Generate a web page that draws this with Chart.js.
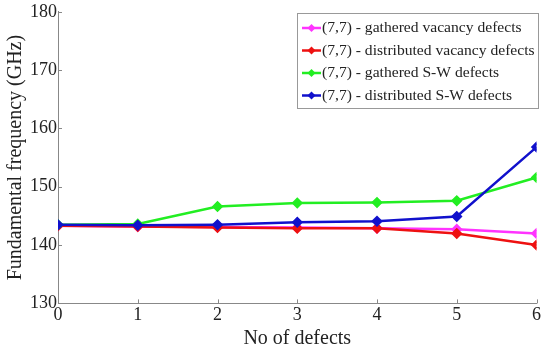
<!DOCTYPE html>
<html><head><meta charset="utf-8">
<script src="https://cdn.jsdelivr.net/npm/chart.js@4.4.1/dist/chart.umd.min.js"></script>
<style>html,body{margin:0;padding:0;background:#fff}#wrap{width:543px;height:353px}</style>
</head><body><div id="wrap"><canvas id="c" width="543" height="353"></canvas></div>
<script>
const defects = [0, 1, 2, 3, 4, 5, 6];
const gatheredVacancy = [143.3, 143.2, 143.1, 143.0, 142.9, 142.7, 142.0];
const distributedVacancy = [143.3, 143.2, 143.0, 142.9, 142.9, 142.0, 140.0];
const gatheredSW = [143.5, 143.6, 146.6, 147.2, 147.3, 147.6, 151.6];
const distributedSW = [143.5, 143.4, 143.5, 143.9, 144.1, 144.9, 156.8];
const seriesNames = ["(7,7) - gathered vacancy defects", "(7,7) - distributed vacancy defects", "(7,7) - gathered S-W defects", "(7,7) - distributed S-W defects"];
const seriesColors = ["#ff33ff", "#ee1111", "#22ee22", "#1111cc"];
const xTicks = [0, 1, 2, 3, 4, 5, 6];
const yTicks = [130, 140, 150, 160, 170, 180];

const seriesData = [gatheredVacancy, distributedVacancy, gatheredSW, distributedSW];
const datasets = seriesData.map((vals, i) => ({
  label: seriesNames[i],
  data: vals.map((v, j) => ({x: defects[j], y: v})),
  borderColor: seriesColors[i],
  backgroundColor: seriesColors[i],
  borderWidth: 2.5,
  pointStyle: 'rectRot',
  pointRadius: 4,
  pointHoverRadius: 4,
  tension: 0,
  order: 4 - i
}));

const serif = "'Liberation Serif', 'DejaVu Serif', serif";

const extras = {
  id: 'extras',
  afterDraw(chart) {
    const ctx = chart.ctx;
    const xs = chart.scales.x, ys = chart.scales.y;
    const area = chart.chartArea;
    ctx.save();
    ctx.strokeStyle = '#888';
    ctx.lineWidth = 1;
    ctx.beginPath();
    yTicks.forEach(t => { const p = Math.round(ys.getPixelForValue(t)) + 0.5; ctx.moveTo(area.left, p); ctx.lineTo(area.left + 4, p); });
    xTicks.forEach(t => { const p = Math.round(xs.getPixelForValue(t)) + 0.5; ctx.moveTo(p, area.bottom); ctx.lineTo(p, area.bottom - 4); });
    ctx.stroke();
    // legend
    const lx = 297, ly = 13, lw = 241, lh = 95;
    ctx.fillStyle = '#fff';
    ctx.fillRect(lx, ly, lw, lh);
    ctx.strokeStyle = '#999';
    ctx.strokeRect(lx + 0.5, ly + 0.5, lw, lh);
    ctx.font = '15.6px ' + serif;
    ctx.textBaseline = 'middle';
    seriesNames.forEach((name, i) => {
      const y = 28 + i * 22.5;
      ctx.strokeStyle = seriesColors[i];
      ctx.lineWidth = 2.5;
      ctx.beginPath(); ctx.moveTo(302, y); ctx.lineTo(321, y); ctx.stroke();
      ctx.fillStyle = seriesColors[i];
      ctx.beginPath(); ctx.moveTo(311.5, y - 4); ctx.lineTo(315.5, y); ctx.lineTo(311.5, y + 4); ctx.lineTo(307.5, y); ctx.closePath(); ctx.fill();
      ctx.fillStyle = '#222';
      ctx.fillText(name, 322, y);
    });
    ctx.restore();
  }
};

new Chart(document.getElementById('c'), {
  type: 'line',
  data: {datasets},
  plugins: [extras],
  options: {
    responsive: false,
    animation: false,
    layout: {padding: {left: 4, right: 3, top: 4, bottom: 2}},
    plugins: {legend: {display: false}, tooltip: {enabled: false}},
    scales: {
      x: {
        type: 'linear', min: 0, max: 6,
        afterBuildTicks: s => { s.ticks = xTicks.map(v => ({value: v})); },
        grid: {display: true, drawOnChartArea: false, drawTicks: false, color: '#888'},
        border: {display: true, color: '#888', width: 1},
        ticks: {color: '#222', font: {family: serif, size: 18}, padding: 1},
        title: {display: true, text: 'No of defects', color: '#222', font: {family: serif, size: 20}, padding: {top: 0, bottom: 0}}
      },
      y: {
        min: 130, max: 180,
        afterBuildTicks: s => { s.ticks = yTicks.map(v => ({value: v})); },
        grid: {display: true, drawOnChartArea: false, drawTicks: false, color: '#888'},
        border: {display: true, color: '#888', width: 1},
        ticks: {color: '#222', font: {family: serif, size: 18}, padding: 1},
        title: {display: true, text: 'Fundamental frequency (GHz)', color: '#222', font: {family: serif, size: 20}, padding: {top: 0, bottom: 1}}
      }
    }
  }
});
</script></body></html>
